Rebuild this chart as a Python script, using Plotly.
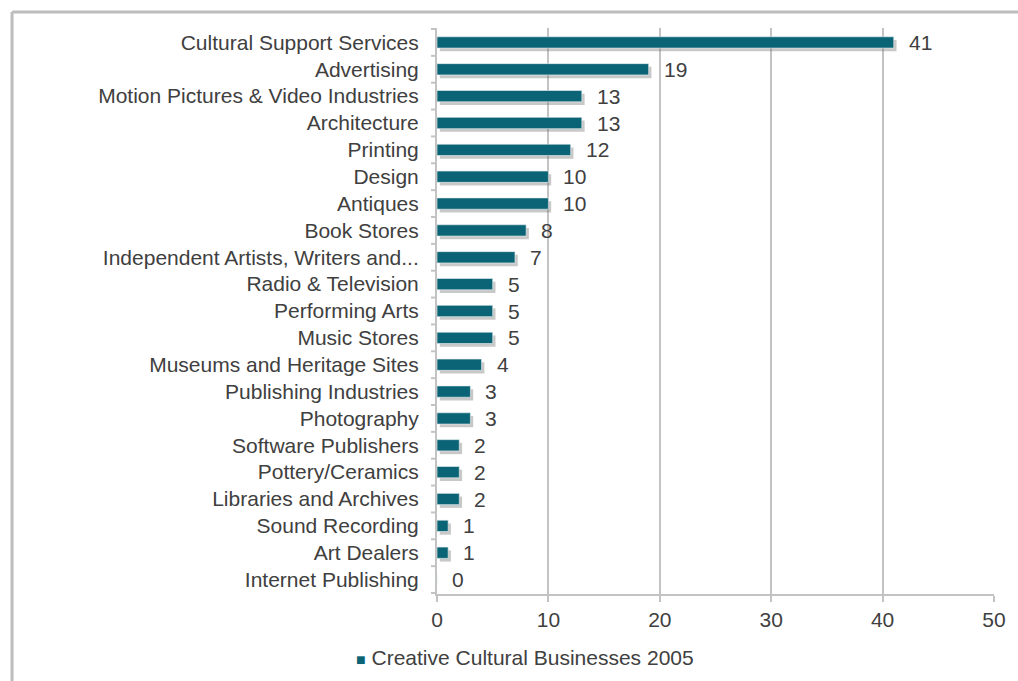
import plotly.graph_objects as go

categories = [
    "Cultural Support Services",
    "Advertising",
    "Motion Pictures & Video Industries",
    "Architecture",
    "Printing",
    "Design",
    "Antiques",
    "Book Stores",
    "Independent Artists, Writers and...",
    "Radio & Television",
    "Performing Arts",
    "Music Stores",
    "Museums and Heritage Sites",
    "Publishing Industries",
    "Photography",
    "Software Publishers",
    "Pottery/Ceramics",
    "Libraries and Archives",
    "Sound Recording",
    "Art Dealers",
    "Internet Publishing",
]
values = [41, 19, 13, 13, 12, 10, 10, 8, 7, 5, 5, 5, 4, 3, 3, 2, 2, 2, 1, 1, 0]
series_name = "Creative Cultural Businesses 2005"
x_ticks = [0, 10, 20, 30, 40, 50]

BAR = "#0b6475"
TEXT = "#404040"
GRID = "#c3c3c3"
FONT = "Liberation Sans, Arial, sans-serif"
FS = 21
BAR_W = 0.42

W, H = 1018, 681
ML, MR, MT, MB = 437, 20, 28, 87
PW, PH = W - ML - MR, H - MT - MB

fig = go.Figure()

# soft drop shadow beneath each bar
fig.add_trace(go.Bar(
    y=categories, x=values, orientation="h", base=0.25,
    width=BAR_W, offset=-BAR_W / 2 + 0.12,
    marker=dict(color="rgba(110,110,110,0.38)", line=dict(width=0)),
    hoverinfo="skip", showlegend=False,
))
fig.add_trace(go.Bar(
    y=categories, x=values, orientation="h", name=series_name,
    width=BAR_W, offset=-BAR_W / 2,
    marker=dict(color=BAR, line=dict(color="#e8f0f2", width=0.6)),
    showlegend=False,
))

# value labels to the right of each bar
annotations = []
for cat, v in zip(categories, values):
    annotations.append(dict(
        x=v, y=cat, xref="x", yref="y", text=str(v), showarrow=False,
        xanchor="left", yanchor="middle", xshift=13,
        font=dict(family=FONT, size=FS, color=TEXT),
    ))

# legend entry below the plot
annotations.append(dict(
    xref="paper", yref="paper",
    x=(353 - ML) / PW, y=-(657 - (MT + PH)) / PH,
    xanchor="left", yanchor="middle", showarrow=False,
    text=f"<span style='color:{BAR};font-size:16px'>■</span> {series_name}",
    font=dict(family=FONT, size=FS, color=TEXT),
))

shapes = []
# category separator ticks on the y axis
for i in range(len(categories) + 1):
    shapes.append(dict(
        type="line", xref="paper", yref="y",
        x0=-6 / PW, x1=0, y0=i - 0.5, y1=i - 0.5,
        line=dict(color=GRID, width=2),
    ))
# outer chart frame (left and top edges)
shapes.append(dict(
    type="line", xref="paper", yref="paper",
    x0=(9 - ML) / PW, x1=(9 - ML) / PW,
    y0=1 + (MT - 12) / PH, y1=-(H - MT - PH + 5) / PH,
    line=dict(color="#bdbdbd", width=3),
))
shapes.append(dict(
    type="line", xref="paper", yref="paper",
    x0=(9 - ML) / PW, x1=(W + 5 - ML) / PW,
    y0=1 + (MT - 12) / PH, y1=1 + (MT - 12) / PH,
    line=dict(color="#bdbdbd", width=3),
))

fig.update_layout(
    width=W, height=H,
    margin=dict(l=ML, r=MR, t=MT, b=MB),
    paper_bgcolor="white", plot_bgcolor="white",
    barmode="overlay",
    font=dict(family=FONT, size=FS, color=TEXT),
    annotations=annotations,
    shapes=shapes,
    xaxis=dict(
        range=[0, 50], tickvals=x_ticks,
        showgrid=True, gridcolor=GRID, gridwidth=2,
        showline=True, linecolor=GRID, linewidth=2,
        ticks="outside", ticklen=6, tickwidth=2, tickcolor=GRID,
        zeroline=False, fixedrange=True,
        tickfont=dict(family=FONT, size=FS, color=TEXT),
    ),
    yaxis=dict(
        categoryorder="array", categoryarray=categories,
        autorange="reversed",
        showline=True, linecolor=GRID, linewidth=2,
        ticks="", ticklabelstandoff=12,
        showgrid=False, fixedrange=True,
        tickfont=dict(family=FONT, size=FS, color=TEXT),
    ),
)

fig.write_html("out.html")
